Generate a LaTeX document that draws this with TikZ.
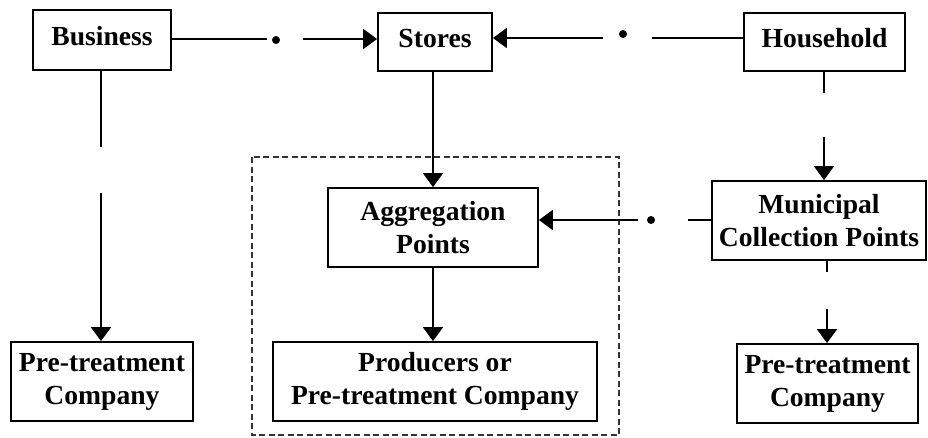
\documentclass[tikz,border=0pt]{standalone}
\usepackage{fontspec}
\setmainfont{Liberation Serif}
\usetikzlibrary{arrows.meta}
\begin{document}
\begin{tikzpicture}[x=1pt,y=-1pt,
  every node/.style={font=\fontsize{27.6}{33}\selectfont\bfseries},
  box/.style={draw,line width=1.8pt,inner sep=0pt,align=center},
  onebox/.style={box,text depth=8pt},
  link/.style={line width=1.8pt},
  arrow/.style={link,-{Triangle[width=20pt,length=14pt]}},
  dot/.style={circle,fill,inner sep=0pt,minimum size=8pt}]
\useasboundingbox (0,0) rectangle (928,437);

% group around aggregation and final processing
\draw[line width=1.3pt,black!80,dash pattern=on 6pt off 3.5pt] (252,157) rectangle (619,435);

% boxes
\node[onebox,minimum width=138pt,minimum height=60pt] (business) at (102,40) {Business};
\node[onebox,minimum width=114pt,minimum height=58pt] (stores) at (435,42) {Stores};
\node[onebox,minimum width=161pt,minimum height=58pt] (household) at (824.5,42) {Household};
\node[box,minimum width=182pt,minimum height=79pt] (ptleft) at (102,381.5) {Pre-treatment\\Company};
\node[box,minimum width=210pt,minimum height=79pt,yshift=0pt] (agg) at (433,227.5) {\raisebox{-3pt}{Aggregation}\\\raisebox{-3pt}{Points}};
\node[box,minimum width=324pt,minimum height=79pt] (prod) at (435,381.5) {Producers or\\Pre-treatment Company};
\node[box,minimum width=214pt,minimum height=79pt] (muni) at (819,220.5) {Municipal\\Collection Points};
\node[box,minimum width=181pt,minimum height=79pt] (ptright) at (827.5,383.5) {Pre-treatment\\Company};

% gap ends and dots on broken connectors
\coordinate (bsA) at (267,39);  \coordinate (bsB) at (303,39);
\node[dot] (bsdot) at (276,40) {};
\coordinate (hsA) at (652,38);  \coordinate (hsB) at (603,38);
\node[dot] (hsdot) at (623,34) {};
\coordinate (maA) at (688,220); \coordinate (maB) at (638,220);
\node[dot] (madot) at (651,220) {};
\coordinate (bpA) at (101,147); \coordinate (bpB) at (101,193);
\coordinate (hmA) at (824,93);  \coordinate (hmB) at (824,137);
\coordinate (mpA) at (827,272); \coordinate (mpB) at (827,309);

% Business -> Stores
\draw[link] (business.east |- bsA) -- (bsA);
\draw[arrow] (bsB) -- (bsB -| stores.west);
% Household -> Stores
\draw[link] (household.west |- hsA) -- (hsA);
\draw[arrow] (hsB) -- (hsB -| stores.east);
% Business -> Pre-treatment Company
\draw[link] (business.south -| bpA) -- (bpA);
\draw[arrow] (bpB) -- (bpB |- ptleft.north);
% Stores -> Aggregation Points -> Producers
\draw[arrow] (agg.north |- stores.south) -- (agg.north);
\draw[arrow] (agg.south) -- (agg.south |- prod.north);
% Household -> Municipal Collection Points
\draw[link] (household.south -| hmA) -- (hmA);
\draw[arrow] (hmB) -- (hmB |- muni.north);
% Municipal Collection Points -> Aggregation Points
\draw[link] (muni.west |- maA) -- (maA);
\draw[arrow] (maB) -- (maB -| agg.east);
% Municipal Collection Points -> Pre-treatment Company
\draw[link] (muni.south -| mpA) -- (mpA);
\draw[arrow] (mpB) -- (mpB |- ptright.north);
\end{tikzpicture}
\end{document}
